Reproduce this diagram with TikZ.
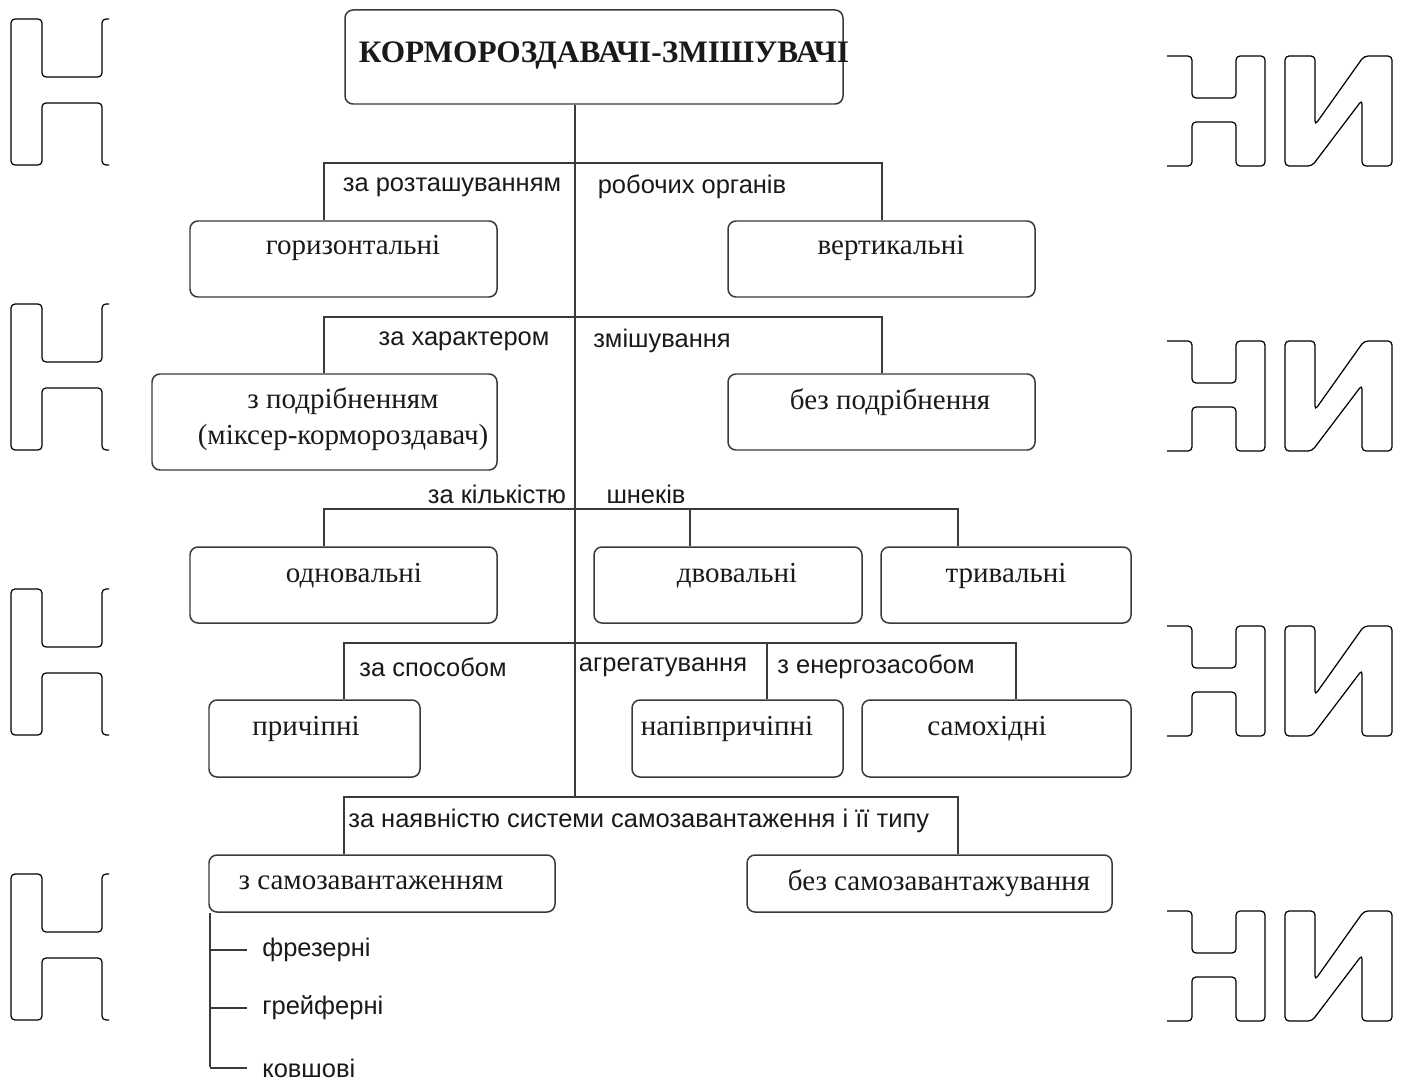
\documentclass[tikz,border=0pt]{standalone}
\usepackage{fontspec}
\setmainfont{Liberation Serif}
\newfontfamily\mylabfamily{Liberation Sans}
\usetikzlibrary{fit}
\newcommand\mybxfont{\fontsize{16.5}{19}\selectfont}
\newcommand\myttlfont{\fontsize{17.8}{20}\selectfont\bfseries}
\newcommand\mylbfont{\mylabfamily\fontsize{14.5}{17}\selectfont}
\definecolor{linec}{HTML}{3A3A3A}
\definecolor{textc}{HTML}{1A1A1A}
\tikzset{
  box/.style={draw=linec, line width=0.85pt, rounded corners=0.16cm, inner sep=0pt},
  btext/.style={font=\mybxfont, text=textc, inner sep=0pt},
  lab/.style={font=\mylbfont, text=textc, inner sep=0pt},
  conn/.style={draw=linec, line width=0.75pt},
  wm/.style={draw=black, line width=0.7pt, rounded corners=0.08cm}
}
\begin{document}
\begin{tikzpicture}[x=0.02cm, y=-0.02cm]
\fill[white] (0,0) rectangle (1406,1081);
\useasboundingbox (0,0) rectangle (1406,1081);

% watermark letters
\foreach \dy in {0,285,570,855}{
  \begin{scope}[yshift=-\dy*0.02cm]
  \draw[wm] (109,19) -- (102,19) -- (102,77) -- (42,77) -- (42,19) -- (11,19) -- (11,165) -- (42,165) -- (42,103) -- (102,103) -- (102,165) -- (109,165);
  \draw[wm] (1167,56) -- (1192,56) -- (1192,98) -- (1236,98) -- (1236,56) -- (1265,56) -- (1265,166) -- (1236,166) -- (1236,122) -- (1192,122) -- (1192,166) -- (1167,166);
  \draw[wm] (1285,56) -- (1315,56) -- (1315,125) -- (1364,56) -- (1392,56) -- (1392,166) -- (1362,166) -- (1362,100) -- (1312,166) -- (1285,166) -- cycle;
  \end{scope}
}

% boxes
\node[box, fit={(345,10) (843,104)}] (title) {};
\node[btext, font=\myttlfont] (titlet) at (604,55) {КОРМОРОЗДАВАЧІ-ЗМІШУВАЧІ};

\node[box, fit={(190,221) (497,297)}] (hor) {};
\node[btext] (hort) at (353,248) {горизонтальні};
\node[box, fit={(728,221) (1035,297)}] (ver) {};
\node[btext] (vert) at (891,248) {вертикальні};

\node[box, fit={(152,374) (497,470)}] (zp) {};
\node[btext] (zpt1) at (343,401) {з подрібненням};
\node[btext] (zpt2) at (343,438) {(міксер-кормороздавач)};
\node[box, fit={(728,374) (1035,450)}] (bp) {};
\node[btext] (bpt) at (890,402) {без подрібнення};

\node[box, fit={(190,547) (497,623)}] (odn) {};
\node[btext] (odnt) at (354,576) {одновальні};
\node[box, fit={(594,547) (862,623)}] (dvo) {};
\node[btext] (dvot) at (737,576) {двовальні};
\node[box, fit={(881,547) (1131,623)}] (tri) {};
\node[btext] (trit) at (1006,576) {тривальні};

\node[box, fit={(209,700) (420,777)}] (pry) {};
\node[btext] (pryt) at (306,729) {причіпні};
\node[box, fit={(632,700) (843,777)}] (nap) {};
\node[btext] (napt) at (727,729) {напівпричіпні};
\node[box, fit={(862,700) (1131,777)}] (sam) {};
\node[btext] (samt) at (987,729) {самохідні};

\node[box, fit={(209,855) (555,912)}] (zs) {};
\node[btext] (zst) at (371,883) {з самозавантаженням};
\node[box, fit={(747,855) (1112,912)}] (bs) {};
\node[btext] (bst) at (939,883) {без самозавантажування};

% bracket coordinates
\coordinate (T) at (575,797);
\coordinate (A1) at (324,163); \coordinate (B1) at (882,163);
\coordinate (A2) at (324,317); \coordinate (B2) at (882,317);
\coordinate (A3) at (324,509); \coordinate (M3) at (690,509); \coordinate (B3) at (958,509);
\coordinate (A4) at (344,643); \coordinate (M4) at (767,643); \coordinate (B4) at (1016,643);
\coordinate (A5) at (344,797); \coordinate (B5) at (958,797);
\coordinate (S) at (210,1067);

% connectors
\draw[conn] (title.south -| T) -- (T);
\draw[conn] (hor.north -| A1) -- (A1) -- (B1) -- (ver.north -| B1);
\draw[conn] (zp.north -| A2) -- (A2) -- (B2) -- (bp.north -| B2);
\draw[conn] (odn.north -| A3) -- (A3) -- (B3) -- (tri.north -| B3);
\draw[conn] (M3) -- (dvo.north -| M3);
\draw[conn] (pry.north -| A4) -- (A4) -- (B4) -- (sam.north -| B4);
\draw[conn] (M4) -- (nap.north -| M4);
\draw[conn] (zs.north -| A5) -- (A5) -- (B5) -- (bs.north -| B5);

% labels
\node[lab] (l1a) at (452,187) {за розташуванням};
\node[lab] (l1b) at (692,187) {робочих органів};
\node[lab] (l2a) at (464,341) {за характером};
\node[lab] (l2b) at (662,341) {змішування};
\node[lab] (l3a) at (497,494) {за кількістю};
\node[lab] (l3b) at (646,494) {шнеків};
\node[lab] (l4a) at (433,667) {за способом};
\node[lab] (l4b) at (663,667) {агрегатування};
\node[lab] (l4c) at (876,667) {з енергозасобом};
\node[lab, anchor=west] (l5) at (348,821) {за наявністю системи самозавантаження і її типу};

% sub list
\node[lab, anchor=west] (fre) at (262,950) {фрезерні};
\node[lab, anchor=west] (gre) at (262,1008) {грейферні};
\node[lab, anchor=west] (kov) at (262,1068) {ковшові};
\draw[conn] (zs.south -| S) -- (S);
\draw[conn] (S |- fre) -- ([xshift=-0.3cm]fre.west);
\draw[conn] (S |- gre) -- ([xshift=-0.3cm]gre.west);
\draw[conn] (S |- kov) -- ([xshift=-0.3cm]kov.west);
\end{tikzpicture}
\end{document}
